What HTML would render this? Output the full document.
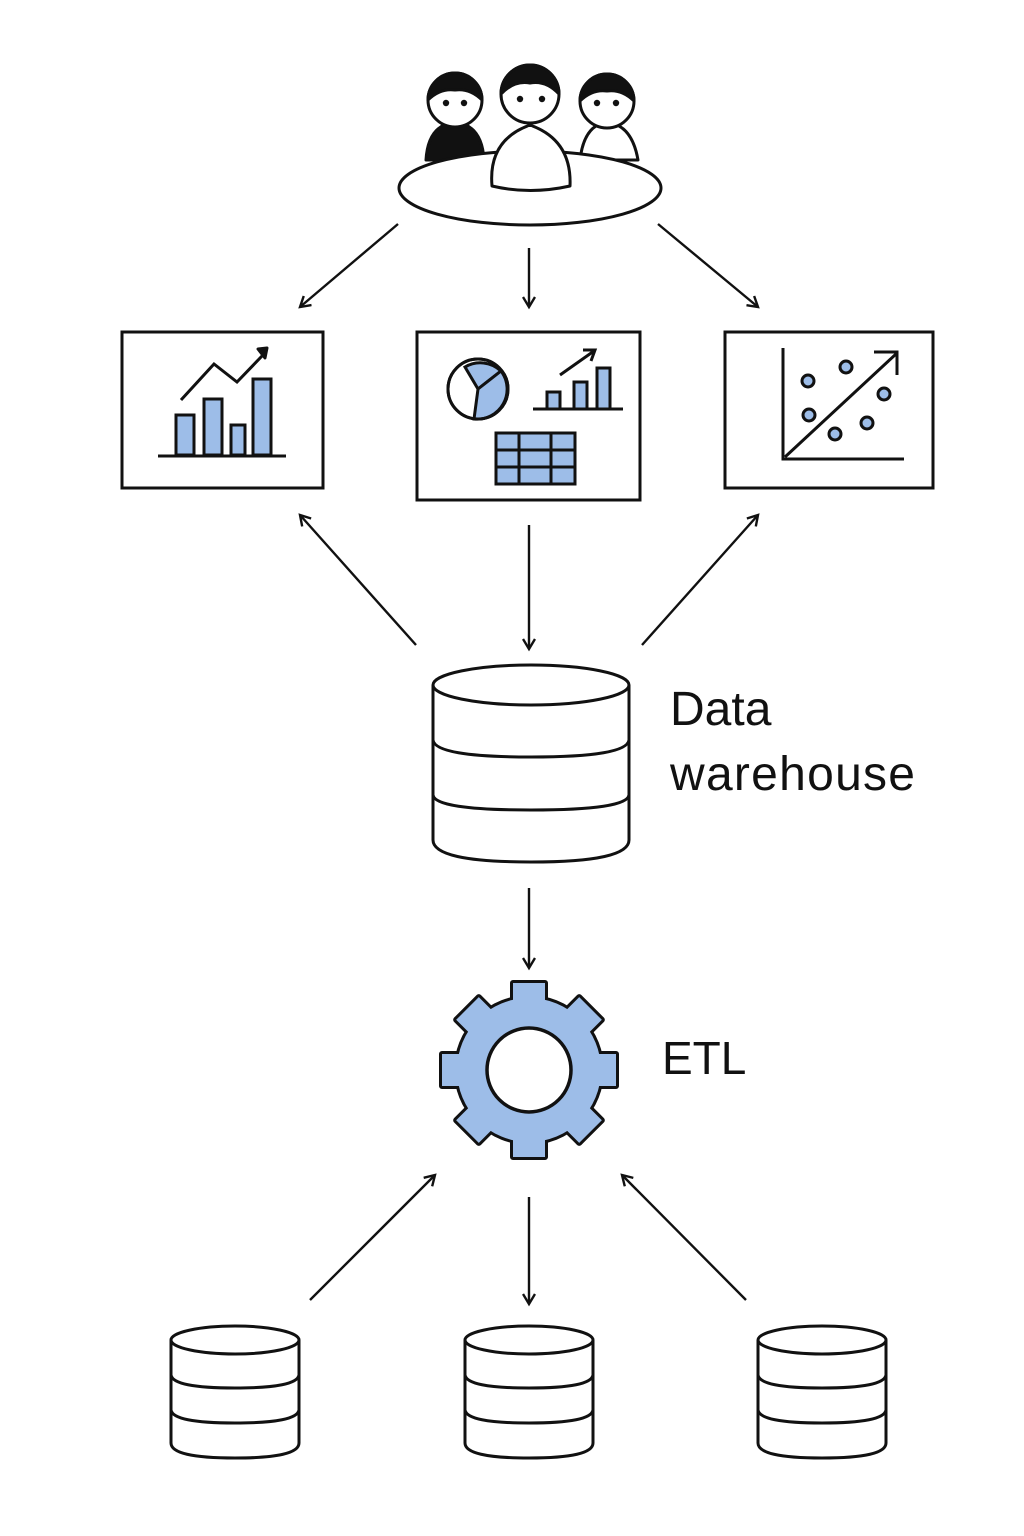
<!DOCTYPE html>
<html><head><meta charset="utf-8"><style>html,body{margin:0;padding:0;background:#fff}svg{display:block}</style></head>
<body>
<svg width="1024" height="1536" viewBox="0 0 1024 1536" xmlns="http://www.w3.org/2000/svg">
<defs>
<marker id="ah" markerWidth="14" markerHeight="14" refX="11" refY="7" orient="auto" markerUnits="userSpaceOnUse">
<path d="M1,1 L11,7 L1,13" fill="none" stroke="#111" stroke-width="2.4"/>
</marker>
</defs>
<g stroke="#111" stroke-width="3" stroke-linejoin="round" stroke-linecap="round">
<!-- people -->
<path d="M426,160 Q428,125 455,122 Q482,125 484,160 Z" fill="#111"/>
<path d="M580,160 Q584,125 607,122 Q632,125 638,160 Z" fill="#fff"/>
<ellipse cx="530" cy="188" rx="131" ry="37" fill="#fff"/>
<circle cx="455" cy="100" r="27" fill="#fff"/>
<path d="M428,100 A27,27 0 0 1 482,100 Q470,88 455,90 Q440,88 428,100 Z" fill="#111"/>
<circle cx="607" cy="101" r="27" fill="#fff"/>
<path d="M580,101 A27,27 0 0 1 634,101 Q622,89 607,91 Q592,89 580,101 Z" fill="#111"/>
<path d="M492,186 Q488,140 530,125 Q572,140 570,186 Q530,195 492,186 Z" fill="#fff"/>
<circle cx="530" cy="94" r="29" fill="#fff"/>
<path d="M501,94 A29,29 0 0 1 559,94 Q546,80 530,83 Q514,80 501,94 Z" fill="#111"/>
</g>
<g fill="#111">
<circle cx="446" cy="103" r="3.2"/><circle cx="464" cy="103" r="3.2"/>
<circle cx="520" cy="99" r="3.2"/><circle cx="542" cy="99" r="3.2"/>
<circle cx="597" cy="103" r="3.2"/><circle cx="616" cy="103" r="3.2"/>
</g>
<!-- arrows -->
<g stroke="#111" stroke-width="2.4" fill="none" marker-end="url(#ah)">
<line x1="398" y1="224" x2="300" y2="307"/>
<line x1="529" y1="248" x2="529" y2="307"/>
<line x1="658" y1="224" x2="758" y2="307"/>
<line x1="416" y1="645" x2="300" y2="515"/>
<line x1="529" y1="525" x2="529" y2="649"/>
<line x1="642" y1="645" x2="758" y2="515"/>
<line x1="529" y1="888" x2="529" y2="968"/>
<line x1="310" y1="1300" x2="435" y2="1175"/>
<line x1="529" y1="1197" x2="529" y2="1304"/>
<line x1="746" y1="1300" x2="622" y2="1175"/>
</g>
<!-- boxes -->
<g stroke="#111" stroke-width="3" fill="#fff">
<rect x="122" y="332" width="201" height="156"/>
<rect x="417" y="332" width="223" height="168"/>
<rect x="725" y="332" width="208" height="156"/>
</g>
<!-- box1 -->
<g stroke="#111" stroke-width="3" fill="#9dbde8">
<rect x="176" y="415" width="18" height="40"/>
<rect x="204" y="399" width="18" height="56"/>
<rect x="231" y="425" width="14" height="30"/>
<rect x="253" y="379" width="18" height="76"/>
<line x1="158" y1="456" x2="286" y2="456"/>
<polyline points="181,400 214,364 237,382 262,356" fill="none"/>
</g>
<path d="M258,349 L267,348 L265,358 Z" fill="#111" stroke="#111" stroke-width="3" stroke-linejoin="round"/>
<!-- box2 -->
<g stroke="#111" stroke-width="3">
<circle cx="478" cy="389" r="30" fill="#fff"/>
<path d="M478,389 L465,367 A30,30 0 0 1 501,371 Z" fill="#9dbde8"/>
<path d="M478,389 L501,371 A30,30 0 0 1 474,419 Z" fill="#9dbde8"/>
<circle cx="478" cy="389" r="30" fill="none"/>
<rect x="547" y="392" width="13" height="17" fill="#9dbde8"/>
<rect x="574" y="382" width="13" height="27" fill="#9dbde8"/>
<rect x="597" y="368" width="13" height="41" fill="#9dbde8"/>
<line x1="533" y1="409" x2="623" y2="409"/>
<line x1="560" y1="375" x2="594" y2="351"/>
<polyline points="583,350 595,350 591,361" fill="none"/>
<rect x="496" y="433" width="79" height="51" fill="#9dbde8"/>
<line x1="496" y1="450" x2="575" y2="450"/>
<line x1="496" y1="467" x2="575" y2="467"/>
<line x1="519" y1="433" x2="519" y2="484"/>
<line x1="551" y1="433" x2="551" y2="484"/>
</g>
<!-- box3 -->
<g stroke="#111" stroke-width="3" fill="none">
<polyline points="783,348 783,459 904,459"/>
<line x1="785" y1="457" x2="896" y2="354"/>
<polyline points="874,352 897,352 897,375"/>
<g fill="#9dbde8">
<circle cx="808" cy="381" r="6"/><circle cx="846" cy="367" r="6"/><circle cx="884" cy="394" r="6"/>
<circle cx="809" cy="415" r="6"/><circle cx="835" cy="434" r="6"/><circle cx="867" cy="423" r="6"/>
</g>
</g>
<!-- data warehouse cylinder -->
<g stroke="#111" stroke-width="3" fill="#fff">
<path d="M433,685 L433,840 Q433,862 531,862 Q629,862 629,840 L629,685"/>
<ellipse cx="531" cy="685" rx="98" ry="20"/>
<path d="M433,740 Q435,757 531,757 Q627,757 629,740" fill="none"/>
<path d="M433,795 Q435,810 531,810 Q627,810 629,795" fill="none"/>
</g>
<text x="670" y="725" font-family="Liberation Sans, sans-serif" font-size="48" fill="#111">Data</text>
<text x="670" y="790" font-family="Liberation Sans, sans-serif" font-size="48" fill="#111" textLength="245">warehouse</text>
<!-- gear -->
<g transform="translate(529,1070)">
<g fill="#111" stroke="#111" stroke-width="6" stroke-linejoin="round">
<circle r="72"/>
<rect x="-16" y="-87" width="32" height="30"/>
<rect x="-16" y="-87" width="32" height="30" transform="rotate(45)"/>
<rect x="-16" y="-87" width="32" height="30" transform="rotate(90)"/>
<rect x="-16" y="-87" width="32" height="30" transform="rotate(135)"/>
<rect x="-16" y="-87" width="32" height="30" transform="rotate(180)"/>
<rect x="-16" y="-87" width="32" height="30" transform="rotate(225)"/>
<rect x="-16" y="-87" width="32" height="30" transform="rotate(270)"/>
<rect x="-16" y="-87" width="32" height="30" transform="rotate(315)"/>
</g>
<g fill="#9dbde8">
<circle r="72"/>
<rect x="-16" y="-87" width="32" height="30"/>
<rect x="-16" y="-87" width="32" height="30" transform="rotate(45)"/>
<rect x="-16" y="-87" width="32" height="30" transform="rotate(90)"/>
<rect x="-16" y="-87" width="32" height="30" transform="rotate(135)"/>
<rect x="-16" y="-87" width="32" height="30" transform="rotate(180)"/>
<rect x="-16" y="-87" width="32" height="30" transform="rotate(225)"/>
<rect x="-16" y="-87" width="32" height="30" transform="rotate(270)"/>
<rect x="-16" y="-87" width="32" height="30" transform="rotate(315)"/>
</g>
<circle r="42" fill="#fff" stroke="#111" stroke-width="3.5"/>
</g>
<text x="662" y="1074" font-family="Liberation Sans, sans-serif" font-size="46" fill="#111">ETL</text>
<!-- small dbs -->
<g stroke="#111" stroke-width="3" fill="#fff">
<g transform="translate(235,0)">
<path d="M-64,1340 L-64,1443 Q-64,1458 0,1458 Q64,1458 64,1443 L64,1340"/>
<ellipse cx="0" cy="1340" rx="64" ry="14"/>
<path d="M-64,1375 Q-62,1388 0,1388 Q62,1388 64,1375" fill="none"/>
<path d="M-64,1410 Q-62,1423 0,1423 Q62,1423 64,1410" fill="none"/>
</g>
<g transform="translate(529,0)">
<path d="M-64,1340 L-64,1443 Q-64,1458 0,1458 Q64,1458 64,1443 L64,1340"/>
<ellipse cx="0" cy="1340" rx="64" ry="14"/>
<path d="M-64,1375 Q-62,1388 0,1388 Q62,1388 64,1375" fill="none"/>
<path d="M-64,1410 Q-62,1423 0,1423 Q62,1423 64,1410" fill="none"/>
</g>
<g transform="translate(822,0)">
<path d="M-64,1340 L-64,1443 Q-64,1458 0,1458 Q64,1458 64,1443 L64,1340"/>
<ellipse cx="0" cy="1340" rx="64" ry="14"/>
<path d="M-64,1375 Q-62,1388 0,1388 Q62,1388 64,1375" fill="none"/>
<path d="M-64,1410 Q-62,1423 0,1423 Q62,1423 64,1410" fill="none"/>
</g>
</g>
</svg>
</body></html>
